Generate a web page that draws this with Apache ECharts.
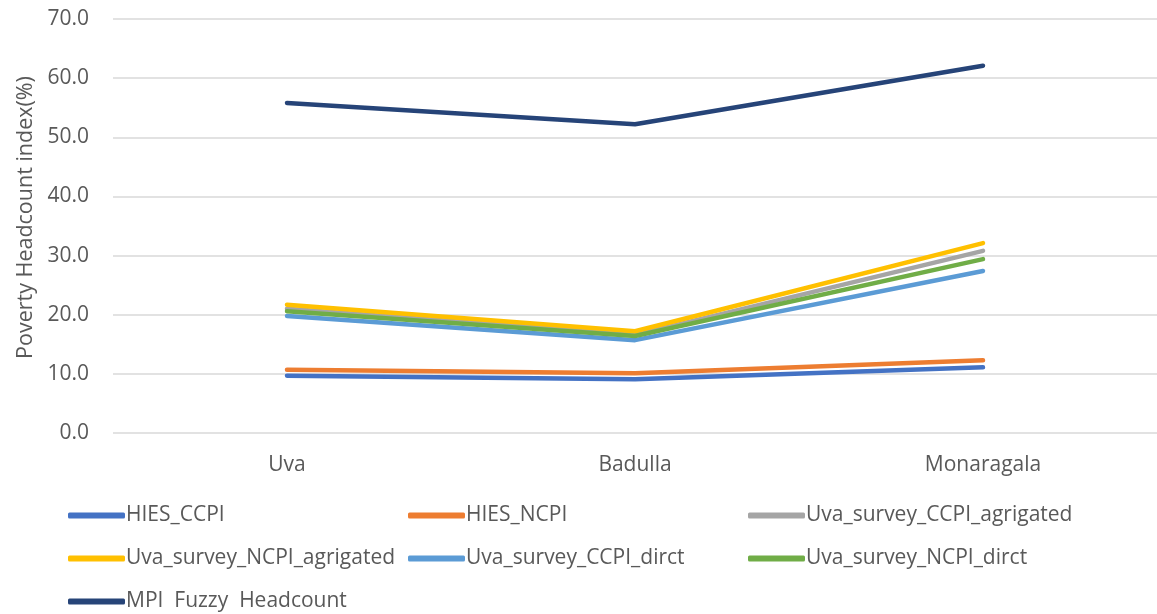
<!DOCTYPE html>
<html>
<head>
<meta charset="utf-8">
<script src="https://cdn.jsdelivr.net/npm/echarts@6/dist/echarts.min.js"></script>
<style>
  html, body { margin: 0; padding: 0; background: #fff; }
  #chart { width: 1157px; height: 614px; }
</style>
</head>
<body>
<div id="chart"></div>
<script>
// Districts on the category axis
const categories = ['Uva', 'Badulla', 'Monaragala'];

// Poverty headcount index (%) per measure
const hiesCcpi = [9.7, 9.1, 11.1];
const hiesNcpi = [10.7, 10.1, 12.3];
const uvaCcpiAgg = [21.0, 16.6, 30.8];
const uvaNcpiAgg = [21.7, 17.2, 32.1];
const uvaCcpiDirect = [19.8, 15.7, 27.4];
const uvaNcpiDirect = [20.6, 16.4, 29.4];
const mpiFuzzy = [55.8, 52.2, 62.1];

const seriesNames = [
  'HIES_CCPI', 'HIES_NCPI', 'Uva_survey_CCPI_agrigated',
  'Uva_survey_NCPI_agrigated', 'Uva_survey_CCPI_dirct', 'Uva_survey_NCPI_dirct',
  'MPI  Fuzzy  Headcount'
];
const seriesData = [hiesCcpi, hiesNcpi, uvaCcpiAgg, uvaNcpiAgg, uvaCcpiDirect, uvaNcpiDirect, mpiFuzzy];
const colors = ['#4472C4', '#ED7D31', '#A5A5A5', '#FFC000', '#5B9BD5', '#70AD47', '#264478'];

// Legend slots: three columns, three rows
const legendPos = [
  [68, 505], [408, 505], [748, 505],
  [68, 548], [408, 548], [748, 548],
  [68, 591]
];

const FONT = '"Open Sans", sans-serif';

const legends = seriesNames.map((name, i) => ({
  data: [name],
  left: legendPos[i][0],
  top: legendPos[i][1],
  orient: 'horizontal',
  icon: 'roundRect',
  itemWidth: 57,
  itemHeight: 6,
  padding: 0,
  selectedMode: false,
  textStyle: { color: '#595959', fontSize: 21, fontFamily: FONT, padding: [0, 0, 0, -4] }
}));

const series = seriesNames.map((name, i) => ({
  name: name,
  type: 'line',
  data: seriesData[i],
  symbol: 'none',
  color: colors[i],
  lineStyle: { width: 4.5, color: colors[i], cap: 'round', join: 'round' },
  z: 2 + i
}));

const chart = echarts.init(document.getElementById('chart'), null, { renderer: 'canvas' });
chart.setOption({
  animation: false,
  backgroundColor: '#fff',
  color: colors,
  legend: legends,
  grid: { left: 113, top: 19, width: 1050, height: 414, containLabel: false },
  xAxis: {
    type: 'category',
    data: categories,
    boundaryGap: true,
    axisLine: { show: false },
    axisTick: { show: false },
    axisLabel: { color: '#595959', fontSize: 21, fontFamily: FONT, margin: 22 }
  },
  yAxis: {
    type: 'value',
    min: 0,
    max: 70,
    interval: 10,
    name: 'Poverty Headcount index(%)',
    nameLocation: 'middle',
    nameGap: 75,
    nameTextStyle: { color: '#595959', fontSize: 21.5, fontFamily: FONT, padding: [0, 0, 0, 17] },
    axisLine: { show: false },
    axisTick: { show: false },
    axisLabel: {
      color: '#595959', fontSize: 21, fontFamily: FONT, margin: 24,
      formatter: v => v.toFixed(1)
    },
    splitLine: { lineStyle: { color: '#D9D9D9', width: 1.5 } }
  },
  series: series
});
</script>
</body>
</html>
